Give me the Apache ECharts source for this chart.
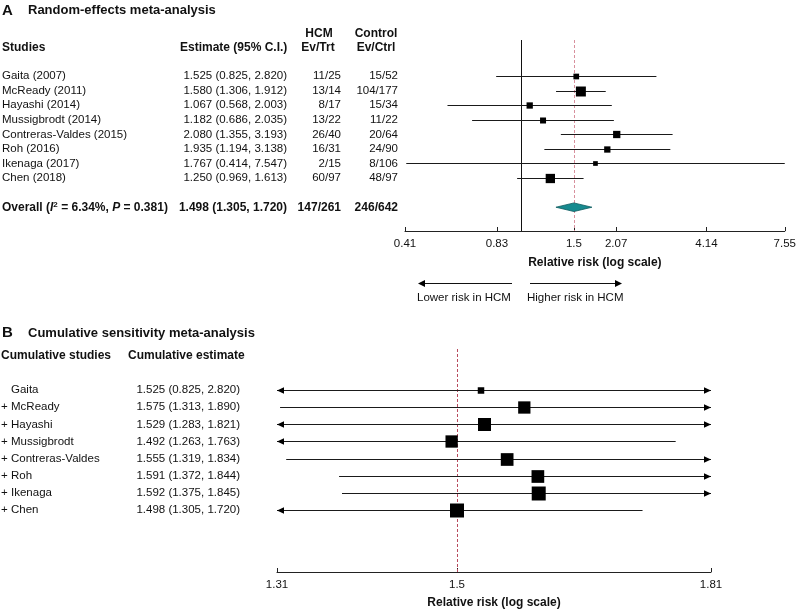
<!DOCTYPE html>
<html><head><meta charset="utf-8">
<script src="https://cdn.jsdelivr.net/npm/echarts@6/dist/echarts.min.js"></script>
<style>html,body{margin:0;padding:0;background:#fff}#c{width:799px;height:612px}</style>
</head><body><div id="c"></div>
<script>
// ---------- Panel A data ----------
const studiesA = ['Gaita (2007)', 'McReady (2011)', 'Hayashi (2014)', 'Mussigbrodt (2014)', 'Contreras-Valdes (2015)', 'Roh (2016)', 'Ikenaga (2017)', 'Chen (2018)'];
const estA  = [1.525, 1.580, 1.067, 1.182, 2.080, 1.935, 1.767, 1.250];
const lowA  = [0.825, 1.306, 0.568, 0.686, 1.355, 1.194, 0.414, 0.969];
const highA = [2.820, 1.912, 2.003, 2.035, 3.193, 3.138, 7.547, 1.613];
const weightsA = [8.1, 24.9, 9.9, 9.0, 13.3, 9.9, 5.5, 21.6];
const hcmA  = ['11/25', '13/14', '8/17', '13/22', '26/40', '16/31', '2/15', '60/97'];
const ctrlA = ['15/52', '104/177', '15/34', '11/22', '20/64', '24/90', '8/106', '48/97'];
const overallEst = 1.498, overallLow = 1.305, overallHigh = 1.720;
const overallHcm = '147/261', overallCtrl = '246/642';
const overallI2 = '6.34%', overallP = '0.381';
const tickValsA = [0.41, 0.83, 1.498, 2.07, 4.14, 7.55];
const tickLabelsA = ['0.41', '0.83', '1.5', '2.07', '4.14', '7.55'];

// ---------- Panel B data ----------
const studiesB = ['Gaita', 'McReady', 'Hayashi', 'Mussigbrodt', 'Contreras-Valdes', 'Roh', 'Ikenaga', 'Chen'];
const estB  = [1.525, 1.575, 1.529, 1.492, 1.555, 1.591, 1.592, 1.498];
const lowB  = [0.825, 1.313, 1.283, 1.263, 1.319, 1.372, 1.375, 1.305];
const highB = [2.820, 1.890, 1.821, 1.763, 1.834, 1.844, 1.845, 1.720];
const weightsB = [10.6, 37.8, 42.3, 37.8, 40.3, 40.3, 49, 49];
const tickValsB = [1.31, 1.498, 1.81];
const tickLabelsB = ['1.31', '1.5', '1.81'];

// ---------- helpers ----------
const FONT = '"Liberation Sans", Arial, Helvetica, sans-serif';
const INK = '#111';
const ln = Math.log;
const f3 = v => v.toFixed(3);
const estText = (e, l, h) => `${f3(e)} (${f3(l)}, ${f3(h)})`;

function T(x, y, text, o) {
  return { type: 'text', x, y, silent: true,
    style: Object.assign({ text, fill: INK, fontFamily: FONT, fontSize: 11.5, align: 'left', verticalAlign: 'middle' }, o || {}) };
}
const B12 = { fontWeight: 'bold', fontSize: 12 };

function axisX(gi, vals, labels, nameGap) {
  const lv = vals.map(ln);
  return {
    gridIndex: gi, type: 'value', min: lv[0], max: lv[lv.length - 1],
    name: 'Relative risk (log scale)', nameLocation: 'middle', nameGap,
    nameTextStyle: { fontFamily: FONT, fontWeight: 'bold', fontSize: 12, color: INK },
    axisLine: { show: true, onZero: false, lineStyle: { color: '#222', width: 1 } },
    axisTick: { show: true, inside: true, length: 4, customValues: lv, lineStyle: { color: '#222' } },
    axisLabel: { show: true, customValues: lv, margin: 7, color: INK, fontFamily: FONT, fontSize: 11.5,
      formatter: v => { let k = 0, d = Infinity; lv.forEach((t, i) => { const dd = Math.abs(t - v); if (dd < d) { d = dd; k = i; } }); return labels[k]; } },
    splitLine: { show: false }
  };
}

function ciRender(params, api) {
  const cs = params.coordSys;
  const row = api.value(1);
  const pe = api.coord([api.value(0), row]);
  const y = Math.round(pe[1]) + 0.5;
  const xe = pe[0];
  const xlo = api.coord([api.value(2), row])[0];
  const xhi = api.coord([api.value(3), row])[0];
  const left = cs.x, right = cs.x + cs.width;
  const x1 = Math.max(xlo, left), x2 = Math.min(xhi, right);
  const s = 2 * Math.sqrt(api.value(4));
  const ch = [{ type: 'line', shape: { x1, y1: y, x2, y2: y }, style: { stroke: '#1a1a1a', lineWidth: 1 } }];
  if (xlo < left - 0.5) ch.push({ type: 'polygon', shape: { points: [[left, y], [left + 7, y - 3.3], [left + 7, y + 3.3]] }, style: { fill: '#000' } });
  if (xhi > right + 0.5) ch.push({ type: 'polygon', shape: { points: [[right, y], [right - 7, y - 3.3], [right - 7, y + 3.3]] }, style: { fill: '#000' } });
  ch.push({ type: 'rect', shape: { x: xe - s / 2, y: y - s / 2, width: s, height: s }, style: { fill: '#000' } });
  return { type: 'group', children: ch };
}

function refRender(color) {
  return function (params, api) {
    const cs = params.coordSys;
    const x = Math.round(api.coord([api.value(0), 0])[0]) + 0.5;
    const kind = api.value(1);
    return { type: 'line', shape: { x1: x, y1: cs.y, x2: x, y2: cs.y + cs.height },
      style: kind === 0 ? { stroke: '#111', lineWidth: 1 } : { stroke: color, lineWidth: 1, lineDash: [3, 2] } };
  };
}

const option = {
  animation: false,
  backgroundColor: '#fff',
  textStyle: { fontFamily: FONT },
  grid: [
    { left: 405, top: 40, width: 382, height: 191 },
    { left: 277, top: 349, width: 434, height: 223 }
  ],
  xAxis: [axisX(0, tickValsA, tickLabelsA, 26), axisX(1, tickValsB, tickLabelsB, 25)],
  yAxis: [
    { gridIndex: 0, type: 'value', inverse: true, min: -2.47, max: 10.63, show: false },
    { gridIndex: 1, type: 'value', inverse: true, min: -2.4, max: 10.62, show: false }
  ],
  series: [
    { type: 'custom', xAxisIndex: 0, yAxisIndex: 0, silent: true, data: [[ln(1), 0], [ln(overallEst), 1]], renderItem: refRender('#d8909d') },
    { type: 'custom', xAxisIndex: 0, yAxisIndex: 0, silent: true,
      data: studiesA.map((s, i) => [ln(estA[i]), i, ln(lowA[i]), ln(highA[i]), weightsA[i]]), renderItem: ciRender },
    { type: 'custom', xAxisIndex: 0, yAxisIndex: 0, silent: true,
      data: [[ln(overallEst), studiesA.length + 1, ln(overallLow), ln(overallHigh)]],
      renderItem: (params, api) => {
        const row = api.value(1);
        const c = api.coord([api.value(0), row]);
        const xl = api.coord([api.value(2), row])[0], xh = api.coord([api.value(3), row])[0];
        const h = 4.3;
        return { type: 'polygon', shape: { points: [[xl, c[1]], [c[0], c[1] - h], [xh, c[1]], [c[0], c[1] + h]] },
          style: { fill: '#178a8f', stroke: '#0d5a5e', lineWidth: 0.8 } };
      } },
    { type: 'custom', xAxisIndex: 0, yAxisIndex: 0, silent: true,
      data: studiesA.map((s, i) => [ln(estA[i]), i]),
      renderItem: (params, api) => {
        const i = params.dataIndex;
        const y = api.coord([api.value(0), api.value(1)])[1];
        return { type: 'group', children: [
          T(2, y, studiesA[i]),
          T(287, y, estText(estA[i], lowA[i], highA[i]), { align: 'right' }),
          T(341, y, hcmA[i], { align: 'right' }),
          T(398, y, ctrlA[i], { align: 'right' })
        ] };
      } },
    { type: 'custom', xAxisIndex: 0, yAxisIndex: 0, silent: true,
      data: [[ln(overallEst), studiesA.length + 1]],
      renderItem: (params, api) => {
        const y = api.coord([api.value(0), api.value(1)])[1];
        const rich = {
          b: { fontWeight: 'bold', fontSize: 12, fontFamily: FONT, fill: INK },
          bi: { fontWeight: 'bold', fontStyle: 'italic', fontSize: 12, fontFamily: FONT, fill: INK },
          sup: { fontWeight: 'bold', fontSize: 8, fontFamily: FONT, fill: INK, verticalAlign: 'top' }
        };
        return { type: 'group', children: [
          T(2, y, `{b|Overall (}{bi|I}{sup|2}{b| = ${overallI2}, }{bi|P}{b| = ${overallP})}`, { rich, fontWeight: 'bold', fontSize: 12 }),
          T(287, y, estText(overallEst, overallLow, overallHigh), Object.assign({ align: 'right' }, B12)),
          T(341, y, overallHcm, Object.assign({ align: 'right' }, B12)),
          T(398, y, overallCtrl, Object.assign({ align: 'right' }, B12))
        ] };
      } },
    // Panel B
    { type: 'custom', xAxisIndex: 1, yAxisIndex: 1, silent: true, data: [[ln(overallEst), 1]], renderItem: refRender('#b84a5c') },
    { type: 'custom', xAxisIndex: 1, yAxisIndex: 1, silent: true,
      data: studiesB.map((s, i) => [ln(estB[i]), i, ln(lowB[i]), ln(highB[i]), weightsB[i]]), renderItem: ciRender },
    { type: 'custom', xAxisIndex: 1, yAxisIndex: 1, silent: true,
      data: studiesB.map((s, i) => [ln(estB[i]), i]),
      renderItem: (params, api) => {
        const i = params.dataIndex;
        const y = api.coord([api.value(0), api.value(1)])[1];
        const ch = [T(11, y, studiesB[i]), T(240, y, estText(estB[i], lowB[i], highB[i]), { align: 'right' })];
        if (i > 0) ch.push(T(1, y, '+'));
        return { type: 'group', children: ch };
      } }
  ],
  graphic: [
    T(2, 10.5, 'A', { fontWeight: 'bold', fontSize: 15 }),
    T(28, 10.5, 'Random-effects meta-analysis', { fontWeight: 'bold', fontSize: 13 }),
    T(319, 34, 'HCM', Object.assign({ align: 'center' }, B12)),
    T(376, 34, 'Control', Object.assign({ align: 'center' }, B12)),
    T(2, 48, 'Studies', B12),
    T(180, 48, 'Estimate (95% C.I.)', B12),
    T(318, 48, 'Ev/Trt', Object.assign({ align: 'center' }, B12)),
    T(376, 48, 'Ev/Ctrl', Object.assign({ align: 'center' }, B12)),
    { type: 'line', silent: true, shape: { x1: 424, y1: 283.5, x2: 512, y2: 283.5 }, style: { stroke: '#111', lineWidth: 1 } },
    { type: 'polygon', silent: true, shape: { points: [[418, 283.5], [425, 280], [425, 287]] }, style: { fill: '#000' } },
    { type: 'line', silent: true, shape: { x1: 530, y1: 283.5, x2: 616, y2: 283.5 }, style: { stroke: '#111', lineWidth: 1 } },
    { type: 'polygon', silent: true, shape: { points: [[622, 283.5], [615, 280], [615, 287]] }, style: { fill: '#000' } },
    T(417, 298, 'Lower risk in HCM'),
    T(527, 298, 'Higher risk in HCM'),
    T(2, 333, 'B', { fontWeight: 'bold', fontSize: 15 }),
    T(28, 333, 'Cumulative sensitivity meta-analysis', { fontWeight: 'bold', fontSize: 13 }),
    T(1, 356, 'Cumulative studies', B12),
    T(128, 356, 'Cumulative estimate', B12)
  ]
};

const chart = echarts.init(document.getElementById('c'), null, { renderer: 'canvas' });
chart.setOption(option);
</script>
</body></html>
